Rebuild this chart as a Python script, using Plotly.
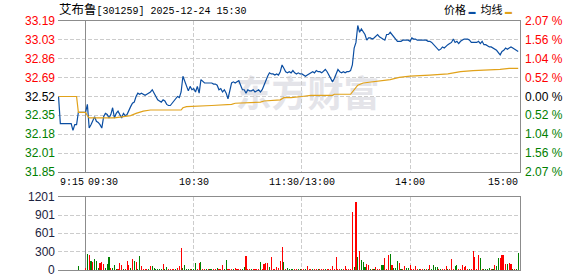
import plotly.graph_objects as go

# ---------------- data ----------------
stock_title_name = "艾布鲁"
stock_title_code = "[301259]"
stock_title_date = "2025-12-24"
stock_title_time = "15:30"
prev_close = 32.52

price_tick_labels = ["33.19", "33.03", "32.86", "32.69", "32.52", "32.35", "32.18", "32.01", "31.85"]
pct_tick_labels = ["2.07%", "1.56%", "1.04%", "0.52%", "0.00%", "0.52%", "1.04%", "1.56%", "2.07%"]
vol_tick_vals = [0, 300, 601, 901, 1201]
time_tick_labels = ["9:15", "09:30", "10:30", "11:30/13:00", "14:00", "15:00"]
time_tick_vals = [-15, 0, 60, 120, 180, 240]   # trading minutes from 09:30, lunch break removed

# call auction 9:15-9:30
auction_minutes = [-15, -14, -8, -7, -6, -5, -4, -1]
auction_price = [32.52, 32.28, 32.28, 32.22, 32.27, 32.27, 32.38, 32.38]
auction_avg_minutes = [-15, -5, -4, -1]
auction_avg = [32.52, 32.52, 32.38, 32.38]
auction_vol_minutes = [-4]
auction_vol = [64]
auction_vol_dir = "g"

# one value per trading minute, 09:30 .. 15:00 (241 minutes)
price = [
    32.38, 32.45, 32.24, 32.27, 32.31, 32.34, 32.30, 32.29, 32.27, 32.24,
    32.34, 32.37, 32.36, 32.33, 32.36, 32.42, 32.33, 32.37, 32.39, 32.36,
    32.33, 32.37, 32.35, 32.36, 32.40, 32.43, 32.46, 32.47, 32.52, 32.55,
    32.54, 32.55, 32.54, 32.53, 32.54, 32.55, 32.56, 32.58, 32.55, 32.51,
    32.49, 32.48, 32.47, 32.49, 32.48, 32.45, 32.44, 32.44, 32.46, 32.47,
    32.49, 32.52, 32.51, 32.56, 32.70, 32.65, 32.60, 32.57, 32.61, 32.58,
    32.59, 32.56, 32.61, 32.55, 32.67, 32.65, 32.64, 32.64, 32.64, 32.64,
    32.64, 32.63, 32.63, 32.62, 32.58, 32.59, 32.56, 32.58, 32.55, 32.50,
    32.58, 32.64, 32.65, 32.64, 32.65, 32.66, 32.62, 32.58, 32.58, 32.55,
    32.58, 32.57, 32.57, 32.58, 32.56, 32.57, 32.58, 32.56, 32.58, 32.62,
    32.67, 32.70, 32.73, 32.72, 32.72, 32.71, 32.72, 32.71, 32.74, 32.80,
    32.77, 32.74, 32.73, 32.74, 32.73, 32.75, 32.73, 32.72, 32.73, 32.72,
    32.72, 32.71, 32.70, 32.71, 32.72, 32.73, 32.74, 32.73, 32.75, 32.74,
    32.74, 32.73, 32.75, 32.76, 32.74, 32.71, 32.69, 32.65, 32.68, 32.73,
    32.76, 32.74, 32.73, 32.74, 32.73, 32.74, 32.74, 32.75, 32.80, 32.95,
    33.00, 33.15, 33.09, 33.12, 33.09, 33.07, 33.02, 33.04, 33.04, 33.03,
    33.04, 33.06, 33.07, 33.05, 33.04, 33.03, 33.02, 33.07, 33.07, 33.09,
    33.07, 33.05, 33.03, 33.01, 33.01, 33.01, 33.02, 33.02, 33.02, 33.02,
    33.01, 33.04, 33.03, 33.03, 33.02, 33.02, 33.02, 33.02, 33.02, 33.02,
    33.01, 33.01, 33.00, 32.98, 32.96, 32.94, 32.93, 32.94, 32.96, 32.95,
    32.97, 32.98, 32.99, 33.00, 33.03, 33.00, 33.01, 32.99, 33.01, 33.02,
    33.03, 33.03, 33.03, 33.02, 33.00, 33.00, 33.00, 33.00, 33.01, 32.99,
    33.01, 32.98, 32.98, 32.97, 32.96, 32.96, 32.95, 32.94, 32.93, 32.91,
    32.89, 32.92, 32.93, 32.95, 32.94, 32.95, 32.96, 32.95, 32.94, 32.93,
    32.92,
]

avg_minutes = [0, 1, 2, 16, 22, 25, 28, 32, 36, 53,
               54, 56, 70, 81, 83, 97, 99, 108, 110, 114,
               120, 125, 137, 138, 147, 149, 151, 154, 160, 164,
               169, 174, 180, 191, 201, 208, 215, 230, 235, 240]
avg_price = [32.38, 32.35, 32.33, 32.33, 32.34, 32.35, 32.37, 32.39, 32.40, 32.40,
             32.42, 32.43, 32.44, 32.45, 32.46, 32.47, 32.48, 32.49, 32.51, 32.51,
             32.52, 32.53, 32.53, 32.54, 32.54, 32.58, 32.62, 32.64, 32.65, 32.66,
             32.67, 32.69, 32.70, 32.71, 32.72, 32.74, 32.75, 32.76, 32.77, 32.77]

volume = [
    38, 264, 248, 150, 137, 176, 149, 38, 121, 137,
    94, 30, 99, 215, 25, 40, 88, 22, 20, 110,
    80, 22, 15, 154, 80, 30, 182, 149, 132, 20,
    231, 66, 20, 16, 16, 16, 66, 66, 35, 16,
    16, 16, 16, 99, 22, 50, 16, 16, 16, 16,
    16, 25, 60, 363, 25, 83, 16, 16, 16, 16,
    16, 110, 20, 121, 132, 16, 16, 16, 16, 16,
    16, 16, 16, 33, 16, 16, 83, 16, 165, 16,
    16, 16, 16, 33, 16, 16, 16, 16, 44, 231,
    16, 16, 16, 16, 16, 16, 16, 132, 16, 94,
    110, 121, 55, 220, 16, 16, 44, 33, 149, 385,
    132, 16, 33, 16, 16, 16, 16, 16, 16, 16,
    16, 16, 16, 66, 16, 16, 16, 16, 16, 16,
    16, 16, 16, 16, 16, 16, 16, 66, 16, 220,
    16, 16, 16, 16, 66, 16, 16, 16, 962, 55,
    1127, 220, 314, 165, 137, 55, 99, 82, 16, 16,
    16, 55, 16, 16, 82, 82, 203, 16, 248, 264,
    82, 25, 25, 149, 110, 16, 16, 66, 38, 38,
    82, 20, 16, 66, 16, 16, 16, 16, 16, 16,
    16, 82, 16, 82, 55, 55, 16, 16, 16, 16,
    66, 16, 16, 182, 16, 66, 82, 16, 16, 82,
    55, 66, 16, 16, 16, 314, 215, 16, 248, 193,
    20, 20, 20, 20, 30, 16, 16, 82, 66, 203,
    193, 248, 248, 99, 94, 110, 94, 16, 16, 16,
    286,
]
volume_dir = ("rgrgrgggrr" "rgggrgggrr" "rgrrrgrgrg" "grrrrgrggg" "gggrggrrrr"
              "grrrggggrg" "ggrrgrrgrg" "grrgrrrggr" "rrgrrrrggr" "rrgrrrrgrr"
              "rrgrrrrrrr" "grggggrrgg" "rrgrrrgrrg" "rrrgrrrrrr" "rrgrrrrrrg"
              "rgrgggrrgr" "grrrggrrrg" "rgggrgrrgg" "rrrrrgrrgr" "grggggrgrr"
              "rgrrrggrrr" "rrrgrrrrrg" "rggggrgrgg" "rrrrgrrgrg" "g")

# ---------------- style ----------------
RED = "#ff0000"
GREEN = "#008000"
BLACK = "#000000"
BLUE = "#0b4ea2"
GOLD = "#e1a21a"
FRAME = "#8c8c8c"
GRID = "#cccccc"
VOL_LABEL = "#1c2340"
NUM_FONT = "Liberation Sans, Arial, sans-serif"
MONO_FONT = "Liberation Mono, DejaVu Sans Mono, monospace"
CJK_FONT = "Noto Sans CJK SC, sans-serif"

W, H = 578, 276
ML, MR, MT, MB = 58, 58, 21, 6
PH = H - MT - MB
main_dom = [(H - MB - 172) / PH, 1.0]
vol_dom = [0.0, (H - MB - 197) / PH]
x_range = [-15.3, 241]

minutes = list(range(len(price)))
line_x = auction_minutes + minutes
line_y = auction_price + price
avg_x = auction_avg_minutes + avg_minutes
avg_y = auction_avg + avg_price
bar_x = auction_vol_minutes + minutes
bar_y = auction_vol + volume
bar_c = [RED if d == "r" else GREEN for d in auction_vol_dir + volume_dir]

fig = go.Figure()
fig.add_trace(go.Scatter(x=line_x, y=line_y, mode="lines", line=dict(color=BLUE, width=1.2),
                         xaxis="x", yaxis="y", hoverinfo="skip", showlegend=False))
fig.add_trace(go.Scatter(x=avg_x, y=avg_y, mode="lines", line=dict(color=GOLD, width=1.2),
                         xaxis="x", yaxis="y", hoverinfo="skip", showlegend=False))
fig.add_trace(go.Bar(x=bar_x, y=bar_y, marker=dict(color=bar_c, line=dict(width=0)), width=0.6,
                     xaxis="x2", yaxis="y2", hoverinfo="skip", showlegend=False))

grid_vals = [v for v in time_tick_vals if v not in (0, 240)]
xcommon = dict(range=x_range, tickvals=grid_vals, showticklabels=False, ticks="",
               showgrid=True, gridcolor=GRID, griddash="4px,2px", gridwidth=1,
               zeroline=True, zerolinecolor=FRAME, zerolinewidth=1.3,
               showline=True, mirror=True, linecolor=FRAME, linewidth=1.3, fixedrange=True)
ycommon = dict(showticklabels=False, ticks="", showgrid=True, gridcolor=GRID, griddash="4px,2px",
               gridwidth=1, zeroline=False, showline=True, side="right", linecolor=FRAME,
               linewidth=1.3, fixedrange=True)

step = (float(price_tick_labels[0]) - prev_close) / 4
price_tick_vals = [prev_close + step * (4 - i) for i in range(len(price_tick_labels))]

fig.update_layout(
    width=W, height=H, margin=dict(l=ML, r=MR, t=MT, b=MB, pad=0),
    paper_bgcolor="white", plot_bgcolor="white", bargap=0,
    xaxis=dict(domain=[0, 1], anchor="y", **xcommon),
    xaxis2=dict(domain=[0, 1], anchor="y2", matches="x", **xcommon),
    yaxis=dict(domain=main_dom, anchor="x", range=[float(price_tick_labels[-1]), float(price_tick_labels[0])],
               tickvals=price_tick_vals, **ycommon),
    yaxis2=dict(domain=vol_dom, anchor="x2", range=[vol_tick_vals[0], vol_tick_vals[-1]],
                tickvals=vol_tick_vals, **ycommon),
)

ann = []
# title
ann.append(dict(xref="paper", yref="paper", x=0, y=(H - MB - 8.5) / PH, xanchor="left", yanchor="middle",
                text=f'<span style="font-family:{CJK_FONT};font-size:12.5px">{stock_title_name}</span>'
                     f'{stock_title_code} {stock_title_date} {stock_title_time}',
                showarrow=False, font=dict(family=MONO_FONT, size=10, color=BLACK), xshift=-1))
# legend
ann.append(dict(xref="paper", yref="paper", x=1, y=(H - MB - 8.5) / PH, xanchor="right", yanchor="middle",
                text=f'价格 <span style="color:{BLUE};font-size:7px">▬</span>  '
                     f'均线 <span style="color:{GOLD};font-size:7px">▬</span>',
                showarrow=False, font=dict(family=CJK_FONT, size=11, color=BLACK), xshift=-6))
# price & percent labels
for i, (lab, pct, val) in enumerate(zip(price_tick_labels, pct_tick_labels, price_tick_vals)):
    k = 4 - i
    col = RED if k > 0 else (BLACK if k == 0 else GREEN)
    ann.append(dict(xref="paper", yref="y", x=0, y=val, xanchor="right", yanchor="middle",
                    text=lab, showarrow=False, font=dict(family=NUM_FONT, size=12, color=col), xshift=-1))
    ann.append(dict(xref="paper", yref="y", x=1, y=val, xanchor="left", yanchor="middle",
                    text=pct.replace("%", " %"), showarrow=False,
                    font=dict(family=NUM_FONT, size=12, color=col), xshift=3))
# volume labels
for v in vol_tick_vals:
    ann.append(dict(xref="paper", yref="y2", x=0, y=v, xanchor="right", yanchor="middle",
                    text=str(v), showarrow=False, font=dict(family=NUM_FONT, size=12, color=VOL_LABEL),
                    xshift=-1))
# time labels
anchors = ["left", "left", "center", "center", "center", "right"]
for lab, tv, anc in zip(time_tick_labels, time_tick_vals, anchors):
    ann.append(dict(xref="x", yref="paper", x=tv, y=(H - MB - 182) / PH, xanchor=anc, yanchor="middle",
                    text=lab, showarrow=False, font=dict(family=MONO_FONT, size=10, color=BLACK),
                    xshift=(-1 if anc == "left" and tv < 0 else (2 if anc == "right" else 0))))
fig.update_layout(annotations=ann)

# watermark
fig.add_shape(type="rect", xref="paper", yref="paper", x0=0.40, x1=0.68, y0=0.60, y1=0.79,
              line=dict(width=0), fillcolor="rgba(0,0,0,0)", layer="between",
              label=dict(text="东方财富", font=dict(family=CJK_FONT, size=36, color="#e4e4e9", weight="bold"),
                         textposition="middle center"))

fig.write_html("out.html", config=dict(displayModeBar=False, staticPlot=True))
